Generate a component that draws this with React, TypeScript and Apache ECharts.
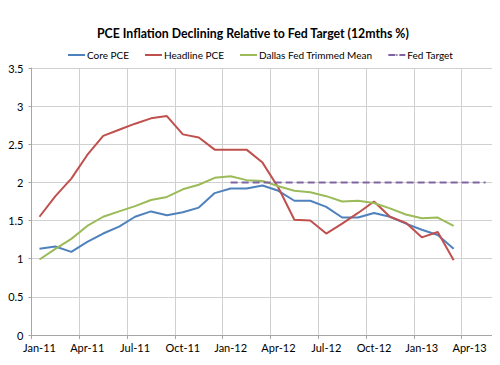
import React, { useEffect, useRef } from "react";
import * as echarts from "echarts";

const months = [
  "Jan-11", "Feb-11", "Mar-11", "Apr-11", "May-11", "Jun-11", "Jul-11", "Aug-11", "Sep-11", "Oct-11", "Nov-11", "Dec-11",
  "Jan-12", "Feb-12", "Mar-12", "Apr-12", "May-12", "Jun-12", "Jul-12", "Aug-12", "Sep-12", "Oct-12", "Nov-12", "Dec-12",
  "Jan-13", "Feb-13", "Mar-13", "Apr-13", "May-13",
];

const corePCE = [
  1.13, 1.16, 1.09, 1.22, 1.33, 1.42, 1.55, 1.62, 1.57, 1.61, 1.67, 1.86,
  1.92, 1.92, 1.96, 1.89, 1.76, 1.76, 1.68, 1.54, 1.54, 1.6, 1.55, 1.46,
  1.38, 1.31, 1.13,
];

const headlinePCE = [
  1.55, 1.82, 2.05, 2.36, 2.61, 2.69, 2.77, 2.84, 2.87, 2.63, 2.59, 2.43,
  2.43, 2.43, 2.26, 1.93, 1.51, 1.5, 1.33, 1.46, 1.6, 1.75, 1.55, 1.47,
  1.28, 1.35, 0.98,
];

const dallasTrimmed = [
  0.99, 1.13, 1.26, 1.43, 1.55, 1.62, 1.69, 1.77, 1.81, 1.91, 1.97, 2.06,
  2.08, 2.03, 2.02, 1.95, 1.89, 1.87, 1.82, 1.75, 1.76, 1.73, 1.66, 1.58,
  1.53, 1.54, 1.43,
];

const fedTarget = [
  null, null, null, null, null, null, null, null, null, null, null, null,
  2, 2, 2, 2, 2, 2, 2, 2, 2, 2, 2, 2,
  2, 2, 2, 2, 2,
];

const FONT = 'Lato, "Noto Sans", sans-serif';

export default function App() {
  const ref = useRef<HTMLDivElement>(null);
  useEffect(() => {
    if (!ref.current) return;
    const chart = echarts.init(ref.current, undefined, { renderer: "svg" });
    const line = (name: string, data: (number | null)[], color: string, dashed = false) => ({
      name,
      type: "line",
      data,
      symbol: "none",
      showSymbol: false,
      connectNulls: false,
      lineStyle: { color, width: 2, type: dashed ? [7, 4] : "solid" },
      itemStyle: { color },
      emphasis: { disabled: true },
    });
    chart.setOption({
      animation: false,
      backgroundColor: "#ffffff",
      textStyle: { fontFamily: FONT },
      title: {
        text: "PCE Inflation Declining Relative to Fed Target (12mths %)",
        left: 92,
        top: 22,
        textStyle: { fontFamily: FONT, fontSize: 12.3, fontWeight: "bold", color: "#000000" },
      },
      legend: {
        top: 45,
        left: 62,
        itemWidth: 17,
        itemHeight: 2,
        itemGap: 15,
        textStyle: { fontFamily: FONT, fontSize: 10, color: "#000000", padding: [0, 0, 0, -3] },
        data: ["Core PCE", "Headline PCE", "Dallas Fed Trimmed Mean", "Fed Target"],
      },
      grid: { left: 31.5, right: 6.5, top: 68, bottom: 30, containLabel: false },
      xAxis: {
        type: "category",
        data: months,
        boundaryGap: true,
        axisLine: { lineStyle: { color: "#a6a6a6" } },
        axisTick: { show: true, interval: 2, length: 4, lineStyle: { color: "#a6a6a6" } },
        axisLabel: { interval: 2, margin: 7, fontFamily: FONT, fontSize: 11, color: "#000000" },
        splitLine: { show: true, interval: 2, lineStyle: { color: "#d0d0d0" } },
      },
      yAxis: {
        type: "value",
        min: 0,
        max: 3.5,
        interval: 0.5,
        axisLine: { show: true, lineStyle: { color: "#a6a6a6" } },
        axisTick: { show: true, length: 3, lineStyle: { color: "#a6a6a6" } },
        axisLabel: { margin: 8, fontFamily: FONT, fontSize: 11, color: "#000000" },
        splitLine: { show: true, lineStyle: { color: "#d0d0d0" } },
      },
      series: [
        line("Core PCE", corePCE, "#4f81bd"),
        line("Headline PCE", headlinePCE, "#c0504d"),
        line("Dallas Fed Trimmed Mean", dallasTrimmed, "#9bbb59"),
        line("Fed Target", fedTarget, "#8064a2", true),
      ],
    });
    return () => chart.dispose();
  }, []);
  return <div ref={ref} style={{ width: 500, height: 365, margin: -8 }} />;
}
